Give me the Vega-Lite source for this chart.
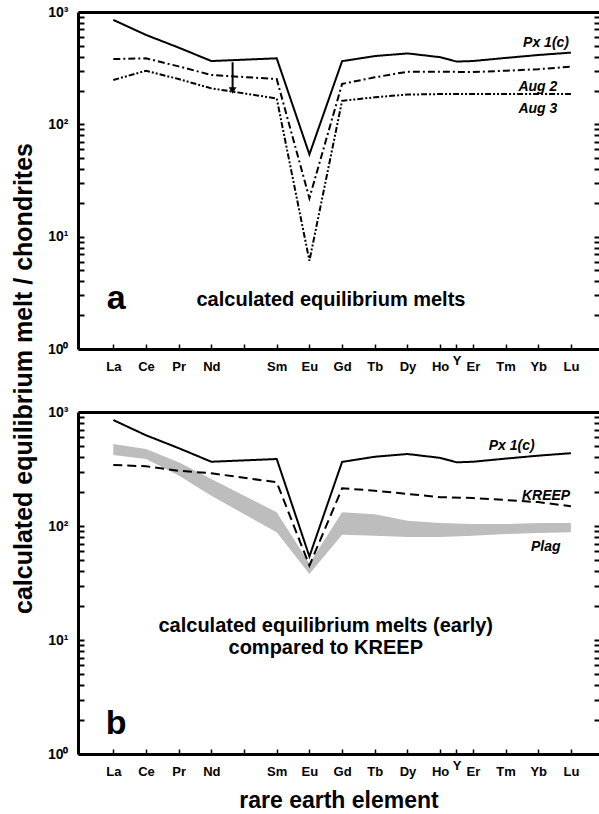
{
  "$schema": "https://vega.github.io/schema/vega-lite/v6.json",
  "padding": {"left": 10, "top": 5, "right": 0, "bottom": 0},
  "background": "white",
  "config": {
    "font": "Liberation Sans",
    "view": {"stroke": null},
    "axis": {"labelColor": "black", "tickColor": "black", "domainColor": "black", "titleColor": "black", "grid": false, "labelFlush": false, "labelOverlap": false, "labelBound": false}
  },
  "datasets": {
    "linesA": [
      {"i": 0, "v": 850, "s": "Px"}, {"i": 1, "v": 625, "s": "Px"}, {"i": 2, "v": 482, "s": "Px"}, {"i": 3, "v": 366, "s": "Px"}, {"i": 5, "v": 387, "s": "Px"}, {"i": 6, "v": 54, "s": "Px"}, {"i": 7, "v": 365, "s": "Px"}, {"i": 8, "v": 405, "s": "Px"}, {"i": 9, "v": 428, "s": "Px"}, {"i": 10, "v": 396, "s": "Px"}, {"i": 10.5, "v": 362, "s": "Px"}, {"i": 11, "v": 366, "s": "Px"}, {"i": 12, "v": 390, "s": "Px"}, {"i": 13, "v": 414, "s": "Px"}, {"i": 14, "v": 435, "s": "Px"},
      {"i": 0, "v": 381, "s": "Aug2"}, {"i": 1, "v": 387, "s": "Aug2"}, {"i": 2, "v": 328, "s": "Aug2"}, {"i": 3, "v": 275, "s": "Aug2"}, {"i": 5, "v": 253, "s": "Aug2"}, {"i": 6, "v": 22, "s": "Aug2"}, {"i": 7, "v": 229, "s": "Aug2"}, {"i": 8, "v": 262, "s": "Aug2"}, {"i": 9, "v": 294, "s": "Aug2"}, {"i": 10, "v": 294, "s": "Aug2"}, {"i": 11, "v": 292, "s": "Aug2"}, {"i": 12, "v": 300, "s": "Aug2"}, {"i": 13, "v": 310, "s": "Aug2"}, {"i": 14, "v": 326, "s": "Aug2"},
      {"i": 0, "v": 248, "s": "Aug3"}, {"i": 1, "v": 300, "s": "Aug3"}, {"i": 2, "v": 253, "s": "Aug3"}, {"i": 3, "v": 209, "s": "Aug3"}, {"i": 5, "v": 170, "s": "Aug3"}, {"i": 6, "v": 6.1, "s": "Aug3"}, {"i": 7, "v": 162, "s": "Aug3"}, {"i": 8, "v": 174, "s": "Aug3"}, {"i": 9, "v": 184, "s": "Aug3"}, {"i": 10, "v": 186, "s": "Aug3"}, {"i": 11, "v": 186, "s": "Aug3"}, {"i": 12, "v": 186, "s": "Aug3"}, {"i": 13, "v": 186, "s": "Aug3"}, {"i": 14, "v": 186, "s": "Aug3"}
    ],
    "linesB": [
      {"i": 0, "v": 850, "s": "Px"}, {"i": 1, "v": 625, "s": "Px"}, {"i": 2, "v": 482, "s": "Px"}, {"i": 3, "v": 366, "s": "Px"}, {"i": 5, "v": 387, "s": "Px"}, {"i": 6, "v": 54, "s": "Px"}, {"i": 7, "v": 365, "s": "Px"}, {"i": 8, "v": 405, "s": "Px"}, {"i": 9, "v": 428, "s": "Px"}, {"i": 10, "v": 396, "s": "Px"}, {"i": 10.5, "v": 362, "s": "Px"}, {"i": 11, "v": 366, "s": "Px"}, {"i": 12, "v": 390, "s": "Px"}, {"i": 13, "v": 414, "s": "Px"}, {"i": 14, "v": 435, "s": "Px"},
      {"i": 0, "v": 343, "s": "KREEP"}, {"i": 1, "v": 334, "s": "KREEP"}, {"i": 2, "v": 305, "s": "KREEP"}, {"i": 3, "v": 290, "s": "KREEP"}, {"i": 5, "v": 242, "s": "KREEP"}, {"i": 6, "v": 45, "s": "KREEP"}, {"i": 7, "v": 214, "s": "KREEP"}, {"i": 8, "v": 204, "s": "KREEP"}, {"i": 9, "v": 191, "s": "KREEP"}, {"i": 10, "v": 179, "s": "KREEP"}, {"i": 11, "v": 176, "s": "KREEP"}, {"i": 12, "v": 169, "s": "KREEP"}, {"i": 13, "v": 162, "s": "KREEP"}, {"i": 14, "v": 149, "s": "KREEP"}
    ],
    "plag": [
      {"i": 0, "hi": 523, "lo": 420}, {"i": 1, "hi": 473, "lo": 387}, {"i": 2, "hi": 362, "lo": 277}, {"i": 3, "hi": 258, "lo": 184}, {"i": 5, "hi": 132, "lo": 88}, {"i": 6, "hi": 47, "lo": 38}, {"i": 7, "hi": 132, "lo": 84}, {"i": 8, "hi": 127, "lo": 82}, {"i": 9, "hi": 111, "lo": 80}, {"i": 10, "hi": 106, "lo": 80}, {"i": 11, "hi": 104, "lo": 82}, {"i": 12, "hi": 104, "lo": 85}, {"i": 13, "hi": 106, "lo": 87}, {"i": 14, "hi": 106, "lo": 88}
    ],
    "seriesA": [
      {"i": 13.24, "v": 530, "t": "Px 1(c)"}, {"i": 12.99, "v": 215, "t": "Aug 2"}, {"i": 12.99, "v": 136, "t": "Aug 3"}
    ],
    "seriesB": [
      {"i": 12.19, "v": 500, "t": "Px 1(c)"}, {"i": 13.24, "v": 185, "t": "KREEP"}, {"i": 13.23, "v": 65, "t": "Plag"}
    ],
    "noteA": [{"i": 6.66, "v": 2.75, "t": "calculated equilibrium melts"}],
    "noteB": [{"i": 6.5, "v": 13.3, "t": "calculated equilibrium melts (early)"}, {"i": 6.5, "v": 8.5, "t": "compared to KREEP"}],
    "letterA": [{"i": 0.09, "v": 2.8, "t": "a"}],
    "letterB": [{"i": 0.09, "v": 1.84, "t": "b"}],
    "arrow": [{"i": 3.65, "v": 357, "v2": 200}]
  },
  "vconcat": [
    {
      "width": 521,
      "height": 337,
      "resolve": {"axis": {"x": "independent", "y": "independent"}},
      "layer": [
        {
          "data": {"name": "linesA"},
          "mark": {"type": "line", "color": "black", "strokeWidth": 2},
          "encoding": {
            "x": {"field": "i", "type": "quantitative", "scale": {"domain": [-1.08, 14.86], "nice": false, "zero": false},
              "axis": {"orient": "bottom", "title": null, "values": [0,1,2,3,4,5,6,7,8,9,10,10.5,11,12,13,14], "labels": false,
                "domainWidth": 3, "tickSize": -5, "tickWidth": 1.5}},
            "y": {"field": "v", "type": "quantitative", "scale": {"type": "log", "domain": [1, 1000], "nice": false},
              "axis": {"orient": "left", "title": null, "labels": false, "values": [1,2,3,4,5,6,7,8,9,10,20,30,40,50,60,70,80,90,100,200,300,400,500,600,700,800,900,1000],
                "domainWidth": 3, "tickSize": -6, "tickWidth": 2}},
            "strokeDash": {"field": "s", "type": "nominal", "scale": {"domain": ["Px", "Aug2", "Aug3", "KREEP"], "range": [[1, 0], [7, 3, 2, 3], [6, 2, 2, 2, 2, 2], [9, 5]]}, "legend": null}
          }
        },
        {
          "data": {"name": "arrow"},
          "mark": {"type": "rule", "color": "black", "strokeWidth": 2},
          "encoding": {
            "x": {"field": "i", "type": "quantitative", "axis": null},
            "y": {"field": "v", "type": "quantitative", "axis": null},
            "y2": {"field": "v2"}
          }
        },
        {
          "data": {"name": "arrow"},
          "mark": {"type": "point", "shape": "triangle-down", "filled": true, "color": "black", "size": 60, "opacity": 1},
          "encoding": {
            "x": {"field": "i", "type": "quantitative", "axis": null},
            "y": {"field": "v2", "type": "quantitative", "axis": null}
          }
        },
        {
          "data": {"name": "seriesA"},
          "mark": {"type": "text", "fontSize": 14, "fontWeight": "bold", "fontStyle": "italic", "align": "center", "baseline": "middle", "color": "black"},
          "encoding": {
            "x": {"field": "i", "type": "quantitative", "axis": {"orient": "top", "title": null, "domain": true, "domainWidth": 3, "ticks": false, "labels": false}},
            "y": {"field": "v", "type": "quantitative", "axis": {"orient": "right", "title": null, "domain": false, "labels": false, "tickSize": -5, "tickWidth": 2,
              "values": [1,2,3,4,5,6,7,8,9,10,20,30,40,50,60,70,80,90,100,200,300,400,500,600,700,800,900,1000]}},
            "text": {"field": "t"}
          }
        },
        {
          "data": {"name": "noteA"},
          "mark": {"type": "text", "fontSize": 20, "fontWeight": "bold", "align": "center", "baseline": "middle", "color": "black"},
          "encoding": {
            "x": {"field": "i", "type": "quantitative",
              "axis": {"orient": "bottom", "title": null, "domain": false, "ticks": false, "values": [0,1,2,3,4,5,6,7,8,9,10,10.5,11,12,13,14],
                "labelExpr": "datum.value == 10.5 ? 'Y' : ['La','Ce','Pr','Nd','','Sm','Eu','Gd','Tb','Dy','Ho','Er','Tm','Yb','Lu'][datum.value]",
                "labelFontSize": 13, "labelFontWeight": "bold",
                "labelPadding": {"condition": {"test": "datum.value == 10.5", "value": 5}, "value": 11}}},
            "y": {"field": "v", "type": "quantitative",
              "axis": {"orient": "left", "domain": false, "ticks": false, "values": [1, 10, 100, 1000],
                "labelExpr": "datum.value == 1 ? '10⁰' : datum.value == 10 ? '10¹' : datum.value == 100 ? '10²' : '10³'",
                "labelFontSize": 14, "labelFontWeight": "bold", "labelPadding": 10,
                "title": "calculated equilibrium melt / chondrites", "titleFontSize": 25, "titleFontWeight": "bold",
                "titleAngle": 270, "titleX": -55, "titleY": 366, "titleAlign": "center", "titleBaseline": "middle"}},
            "text": {"field": "t"}
          }
        },
        {
          "data": {"name": "letterA"},
          "mark": {"type": "text", "fontSize": 34, "fontWeight": "bold", "align": "center", "baseline": "middle", "color": "black"},
          "encoding": {
            "x": {"field": "i", "type": "quantitative", "axis": null},
            "y": {"field": "v", "type": "quantitative", "axis": null},
            "text": {"field": "t"}
          }
        }
      ]
    },
    {
      "width": 521,
      "height": 342,
      "resolve": {"axis": {"x": "independent", "y": "independent"}},
      "layer": [
        {
          "data": {"name": "plag"},
          "mark": {"type": "area", "color": "#bdbdbd", "opacity": 1},
          "encoding": {
            "x": {"field": "i", "type": "quantitative", "scale": {"domain": [-1.08, 14.86], "nice": false, "zero": false}, "axis": null},
            "y": {"field": "hi", "type": "quantitative", "scale": {"type": "log", "domain": [1, 1000], "nice": false}, "axis": null},
            "y2": {"field": "lo"}
          }
        },
        {
          "data": {"name": "linesB"},
          "mark": {"type": "line", "color": "black", "strokeWidth": 2},
          "encoding": {
            "x": {"field": "i", "type": "quantitative", "scale": {"domain": [-1.08, 14.86], "nice": false, "zero": false},
              "axis": {"orient": "bottom", "title": null, "values": [0,1,2,3,4,5,6,7,8,9,10,10.5,11,12,13,14], "labels": false,
                "domainWidth": 3, "tickSize": -5, "tickWidth": 1.5}},
            "y": {"field": "v", "type": "quantitative", "scale": {"type": "log", "domain": [1, 1000], "nice": false},
              "axis": {"orient": "left", "title": null, "labels": false, "values": [1,2,3,4,5,6,7,8,9,10,20,30,40,50,60,70,80,90,100,200,300,400,500,600,700,800,900,1000],
                "domainWidth": 3, "tickSize": -6, "tickWidth": 2}},
            "strokeDash": {"field": "s", "type": "nominal", "scale": {"domain": ["Px", "Aug2", "Aug3", "KREEP"], "range": [[1, 0], [7, 3, 2, 3], [6, 2, 2, 2, 2, 2], [9, 5]]}, "legend": null}
          }
        },
        {
          "data": {"name": "seriesB"},
          "mark": {"type": "text", "fontSize": 14, "fontWeight": "bold", "fontStyle": "italic", "align": "center", "baseline": "middle", "color": "black"},
          "encoding": {
            "x": {"field": "i", "type": "quantitative", "axis": {"orient": "top", "title": null, "domain": true, "domainWidth": 3, "ticks": false, "labels": false}},
            "y": {"field": "v", "type": "quantitative", "axis": {"orient": "right", "title": null, "domain": false, "labels": false, "tickSize": -5, "tickWidth": 2,
              "values": [1,2,3,4,5,6,7,8,9,10,20,30,40,50,60,70,80,90,100,200,300,400,500,600,700,800,900,1000]}},
            "text": {"field": "t"}
          }
        },
        {
          "data": {"name": "noteB"},
          "mark": {"type": "text", "fontSize": 20, "fontWeight": "bold", "align": "center", "baseline": "middle", "color": "black"},
          "encoding": {
            "x": {"field": "i", "type": "quantitative",
              "axis": {"orient": "bottom", "domain": false, "ticks": false, "values": [0,1,2,3,4,5,6,7,8,9,10,10.5,11,12,13,14],
                "labelExpr": "datum.value == 10.5 ? 'Y' : ['La','Ce','Pr','Nd','','Sm','Eu','Gd','Tb','Dy','Ho','Er','Tm','Yb','Lu'][datum.value]",
                "labelFontSize": 13, "labelFontWeight": "bold",
                "labelPadding": {"condition": {"test": "datum.value == 10.5", "value": 5}, "value": 11},
                "title": "rare earth element", "titleFontSize": 23, "titleFontWeight": "bold", "titlePadding": 11}},
            "y": {"field": "v", "type": "quantitative",
              "axis": {"orient": "left", "title": null, "domain": false, "ticks": false, "values": [1, 10, 100, 1000],
                "labelExpr": "datum.value == 1 ? '10⁰' : datum.value == 10 ? '10¹' : datum.value == 100 ? '10²' : '10³'",
                "labelFontSize": 14, "labelFontWeight": "bold", "labelPadding": 10}},
            "text": {"field": "t"}
          }
        },
        {
          "data": {"name": "letterB"},
          "mark": {"type": "text", "fontSize": 34, "fontWeight": "bold", "align": "center", "baseline": "middle", "color": "black"},
          "encoding": {
            "x": {"field": "i", "type": "quantitative", "axis": null},
            "y": {"field": "v", "type": "quantitative", "axis": null},
            "text": {"field": "t"}
          }
        }
      ]
    }
  ],
  "spacing": 63,
  "bounds": "flush"
}
